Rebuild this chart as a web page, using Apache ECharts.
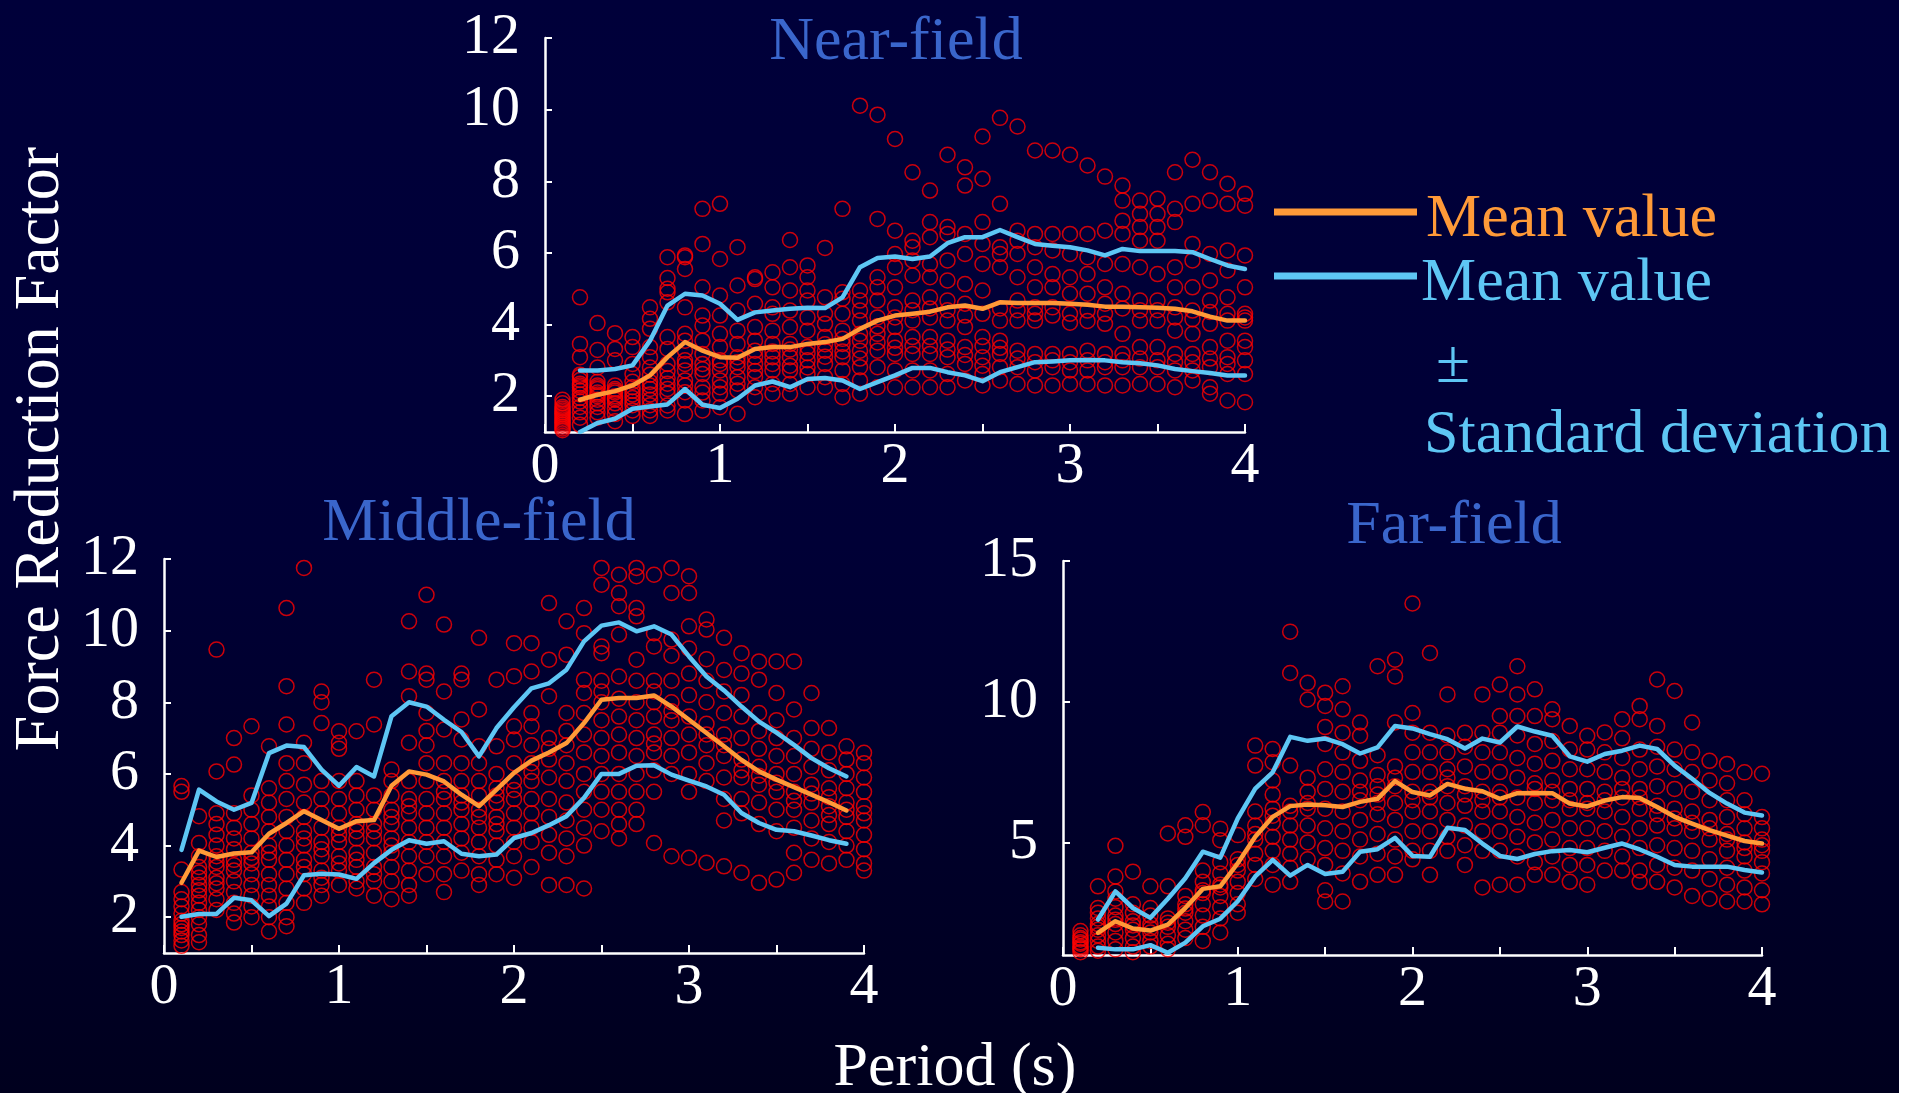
<!DOCTYPE html>
<html>
<head>
<meta charset="utf-8">
<script src="https://cdn.jsdelivr.net/npm/echarts@6/dist/echarts.min.js"></script>
<style>
html,body{margin:0;padding:0;background:#ffffff;}
#c{width:1899px;height:1093px;}
</style>
</head>
<body>
<div id="c"></div>
<script>
// ---------- DATA ----------
const periods = [0.1,0.2,0.3,0.4,0.5,0.6,0.7,0.8,0.9,1.0,1.1,1.2,1.3,1.4,1.5,1.6,1.7,1.8,1.9,2.0,
                 2.1,2.2,2.3,2.4,2.5,2.6,2.7,2.8,2.9,3.0,3.1,3.2,3.3,3.4,3.5,3.6,3.7,3.8,3.9,4.0];
const linePeriodsNear = [0.2,0.3,0.4,0.5,0.6,0.7,0.8,0.9,1.0,1.1,1.2,1.3,1.4,1.5,1.6,1.7,1.8,1.9,2.0,
                 2.1,2.2,2.3,2.4,2.5,2.6,2.7,2.8,2.9,3.0,3.1,3.2,3.3,3.4,3.5,3.6,3.7,3.8,3.9,4.0];
const linePeriodsMiddle = [0.1,0.2,0.3,0.4,0.5,0.6,0.7,0.8,0.9,1.0,1.1,1.2,1.3,1.4,1.5,1.6,1.7,1.8,1.9,2.0,
                 2.1,2.2,2.3,2.4,2.5,2.6,2.7,2.8,2.9,3.0,3.1,3.2,3.3,3.4,3.5,3.6,3.7,3.8,3.9];
const linePeriodsFar = [0.2,0.3,0.4,0.5,0.6,0.7,0.8,0.9,1.0,1.1,1.2,1.3,1.4,1.5,1.6,1.7,1.8,1.9,2.0,
                 2.1,2.2,2.3,2.4,2.5,2.6,2.7,2.8,2.9,3.0,3.1,3.2,3.3,3.4,3.5,3.6,3.7,3.8,3.9,4.0];

const nearMean = [1.90,2.04,2.14,2.30,2.58,3.09,3.51,3.27,3.09,3.07,3.32,3.37,3.37,3.46,3.51,3.60,3.88,4.11,4.25,
  4.30,4.36,4.48,4.53,4.44,4.62,4.60,4.60,4.60,4.58,4.55,4.50,4.50,4.48,4.47,4.44,4.37,4.22,4.11,4.11];
const nearUpper = [2.72,2.72,2.76,2.86,3.55,4.53,4.86,4.81,4.58,4.13,4.34,4.39,4.44,4.47,4.46,4.76,5.60,5.86,5.90,
  5.83,5.90,6.27,6.44,6.44,6.64,6.44,6.25,6.20,6.16,6.07,5.93,6.11,6.05,6.05,6.05,6.02,5.83,5.65,5.55];
const nearLower = [1.00,1.25,1.37,1.65,1.71,1.77,2.20,1.76,1.67,1.93,2.30,2.41,2.25,2.48,2.51,2.44,2.20,2.39,2.58,
  2.79,2.79,2.67,2.58,2.42,2.67,2.81,2.95,2.97,3.00,3.01,3.00,2.95,2.92,2.86,2.76,2.70,2.65,2.58,2.58];

const middleMean = [2.96,3.86,3.68,3.78,3.81,4.33,4.63,4.96,4.71,4.47,4.68,4.71,5.67,6.07,5.98,5.79,5.42,5.10,5.56,6.03,
  6.37,6.60,6.86,7.42,8.07,8.12,8.12,8.19,7.88,7.51,7.14,6.77,6.39,6.07,5.84,5.63,5.42,5.21,4.98];
const middleUpper = [3.88,5.56,5.23,5.00,5.19,6.58,6.79,6.75,6.12,5.67,6.19,5.93,7.61,8.00,7.88,7.51,7.17,6.49,7.28,7.86,
  8.39,8.53,8.91,9.70,10.14,10.23,9.98,10.12,9.89,9.28,8.72,8.33,7.88,7.46,7.15,6.81,6.44,6.16,5.93];
const middleLower = [2.01,2.09,2.09,2.54,2.47,2.03,2.38,3.17,3.21,3.19,3.07,3.51,3.88,4.15,4.05,4.12,3.77,3.70,3.75,4.21,
  4.35,4.57,4.82,5.33,6.00,6.00,6.23,6.24,5.98,5.81,5.65,5.42,4.91,4.63,4.44,4.40,4.28,4.15,4.05];

const farMean = [1.79,2.20,1.94,1.87,2.08,2.67,3.35,3.44,4.26,5.20,5.91,6.29,6.35,6.32,6.26,6.44,6.55,7.18,6.79,
  6.67,7.08,6.91,6.82,6.55,6.75,6.76,6.75,6.38,6.28,6.49,6.61,6.58,6.26,5.91,5.67,5.44,5.24,5.05,4.96];
const farUpper = [2.26,3.26,2.67,2.32,3.00,3.73,4.67,4.46,5.85,6.91,7.49,8.75,8.61,8.69,8.49,8.16,8.38,9.14,9.05,
  8.85,8.67,8.34,8.69,8.55,9.12,8.94,8.79,8.06,7.87,8.14,8.26,8.44,8.32,7.73,7.26,6.76,6.38,6.06,5.96];
const farLower = [1.26,1.20,1.20,1.35,1.08,1.44,2.02,2.29,2.91,3.79,4.38,3.82,4.20,3.88,3.96,4.67,4.76,5.16,4.52,
  4.49,5.52,5.44,4.96,4.52,4.41,4.59,4.69,4.73,4.65,4.81,4.96,4.75,4.49,4.20,4.14,4.14,4.14,4.02,3.93];

// scatter values, one list per period column (periods 0.1 ... 4.0)
const nearPoints = [
  [1.05,1.1,1.2,1.3,1.4,1.5,1.6,1.7,1.8,1.9,1.25,1.35,1.45,1.15,1.55,1.65],
  [4.76,3.46,3.09,2.55,2.45,2.35,2.25,2.15,2.05,1.95,1.85,1.7,1.55,1.4,1.2,2.6,2.3],
  [4.04,3.29,2.8,2.4,2.3,2.2,2.1,2.0,1.9,1.8,1.7,1.55,1.4,2.25,2.05],
  [3.76,3.32,3.0,2.3,2.2,2.1,2.0,1.9,1.8,1.65,1.5,1.3,2.15,1.95],
  [3.65,3.37,2.9,2.62,2.4,2.15,2.05,1.95,1.85,1.75,1.6,1.45,2.25],
  [4.48,4.16,3.88,3.37,3.09,2.8,2.6,2.4,2.2,2.05,1.9,1.75,1.6,1.45,2.3],
  [5.88,5.3,5.0,4.9,4.62,3.65,3.32,2.9,2.5,2.2,2.07,1.74,1.6,2.7,2.35],
  [5.93,5.88,5.55,4.48,3.74,3.55,3.27,3.0,2.72,2.44,2.11,1.88,1.5,2.9,2.3],
  [7.23,6.25,5.04,4.25,3.97,3.55,3.18,2.9,2.62,2.25,1.88,1.6,2.75,2.1],
  [7.37,5.83,4.81,4.25,3.74,3.37,3.0,2.72,2.44,2.07,1.69,2.9,2.25],
  [6.16,5.09,4.39,3.83,3.46,3.09,2.81,2.53,2.16,1.51,2.95,2.35],
  [5.32,5.27,4.58,3.93,3.55,3.27,2.9,2.53,2.25,1.97,3.1,2.7],
  [5.46,5.04,4.48,4.3,3.83,3.46,3.09,2.72,2.34,2.07,3.25,2.9],
  [6.36,5.6,4.95,4.39,3.93,3.46,3.09,2.72,2.34,2.07,3.3,2.85],
  [5.65,5.32,4.95,4.67,4.2,3.83,3.37,3.0,2.62,2.25,3.2,2.8],
  [6.14,4.76,4.3,4.02,3.65,3.27,2.9,2.53,2.25,3.45,3.1],
  [7.23,4.9,4.72,4.3,3.83,3.46,3.09,2.72,2.34,1.97,3.6,3.25],
  [10.11,4.95,4.67,4.39,4.11,3.74,3.27,2.81,2.44,2.07,3.55,3.05],
  [9.86,6.95,5.32,5.04,4.67,4.2,3.74,3.27,2.81,2.25,3.95,3.5],
  [9.18,6.62,5.97,5.6,5.04,4.48,3.93,3.55,3.18,2.72,2.25,4.2,3.35],
  [8.25,6.34,6.16,5.79,5.37,4.67,4.11,3.65,3.18,2.72,2.25,4.4,3.4],
  [7.74,6.86,6.44,5.69,5.32,4.76,4.2,3.65,3.18,2.72,2.25,4.45,3.4],
  [8.74,6.72,6.53,5.79,5.23,4.67,4.11,3.55,3.09,2.62,2.25,4.4,3.3],
  [8.39,7.88,6.53,5.97,5.13,4.58,3.93,3.37,2.9,2.44,4.25,3.15],
  [9.25,8.07,6.86,6.25,5.69,4.95,4.3,3.65,3.09,2.62,2.3,3.4,2.85],
  [9.77,7.37,6.16,5.97,5.6,4.11,3.55,3.18,2.81,2.44,4.45,3.35],
  [9.53,6.62,6.34,5.97,5.32,4.67,4.11,3.27,2.81,2.34,4.4,3.05],
  [8.86,6.53,6.16,5.6,5.04,4.48,4.11,3.18,2.72,2.3,4.3,2.95],
  [8.86,6.53,6.07,5.41,5.04,4.48,3.18,2.81,2.3,4.25,3.0],
  [8.74,6.53,5.97,5.32,4.86,4.3,3.18,2.72,2.34,4.05,2.95],
  [8.44,6.53,5.88,5.41,4.86,4.39,3.27,2.72,2.34,4.1,3.0],
  [8.13,6.62,5.69,5.04,4.58,4.02,3.18,2.81,2.3,4.3,2.95],
  [7.88,7.46,6.9,6.53,5.69,4.86,3.74,3.18,2.81,2.3,4.45,3.0],
  [7.46,7.09,6.72,6.34,5.6,4.67,4.11,3.37,2.81,2.34,4.4,3.05],
  [7.51,7.09,6.72,6.34,5.41,4.67,4.11,3.37,2.81,2.34,4.4,3.0],
  [8.25,7.23,6.86,5.6,5.04,4.48,3.83,3.18,2.72,2.25,4.2,2.95],
  [8.6,7.37,6.25,5.79,5.04,4.39,3.74,3.18,2.72,2.44,4.15,2.95],
  [8.25,7.46,5.97,5.23,4.67,4.02,3.37,2.81,2.25,2.07,4.35,3.05],
  [7.93,7.37,6.07,5.51,4.76,4.11,3.55,3.09,2.62,1.88,4.3,2.9],
  [7.65,7.32,5.93,5.04,4.3,4.11,3.37,3.0,2.62,1.83,4.2,3.55]
];

const middlePoints = [
  [5.66,5.5,3.33,2.7,2.5,2.3,2.1,1.9,1.7,1.5,1.35,1.2,1.6,1.8],
  [4.82,4.07,3.7,3.4,3.1,2.9,2.6,2.4,2.2,2.0,1.8,1.5,1.3,3.25,2.75],
  [9.47,6.07,4.9,4.6,4.3,4.0,3.7,3.4,3.1,2.8,2.5,2.2,3.55,2.95],
  [7.0,6.26,4.9,4.5,4.2,3.9,3.6,3.3,3.0,2.7,2.4,2.1,1.85,3.45],
  [7.33,5.4,5.0,4.6,4.2,3.8,3.5,3.2,2.9,2.6,2.3,2.0,3.65],
  [6.77,5.6,5.2,4.8,4.4,4.0,3.6,3.2,2.9,2.6,2.3,2.0,1.6,3.8],
  [10.63,8.45,7.38,6.3,5.8,5.3,4.8,4.4,4.0,3.6,3.2,2.8,2.4,2.0,1.75],
  [11.75,6.87,6.3,5.7,5.2,4.8,4.4,4.0,3.6,3.2,2.8,2.4,4.2,3.4],
  [8.3,8.0,7.42,5.8,5.3,4.9,4.5,4.1,3.7,3.3,2.9,2.6,3.9,3.1],
  [7.19,6.87,6.7,5.8,5.3,4.9,4.5,4.1,3.7,3.3,2.9,4.3,3.5],
  [7.19,5.8,5.4,5.0,4.6,4.2,3.8,3.4,3.0,2.8,4.4,3.6],
  [8.63,7.38,5.4,5.0,4.6,4.2,3.8,3.4,3.0,2.6,4.4,3.2],
  [6.12,5.8,5.4,5.0,4.6,4.2,3.8,3.4,3.0,2.5,4.8,4.0],
  [10.26,8.86,8.17,6.87,5.8,5.3,4.9,4.5,4.1,3.7,3.3,2.9,2.6,5.1],
  [11.0,8.8,8.63,7.7,7.2,6.8,5.8,5.3,4.9,4.5,4.1,3.7,3.2,6.3],
  [10.17,8.3,7.24,6.3,5.8,5.3,4.9,4.5,4.1,3.7,3.2,2.7,5.5],
  [8.8,8.63,7.52,6.96,6.3,5.8,5.4,5.0,4.6,4.2,3.8,3.3,5.2],
  [9.8,7.8,6.77,6.3,5.8,5.4,5.0,4.5,4.1,3.7,3.2,2.9,4.8],
  [8.63,6.77,6.0,5.6,5.2,4.8,4.4,4.0,3.6,3.2,5.4,4.6],
  [9.65,8.73,7.33,6.96,6.3,5.8,5.3,4.9,4.5,4.1,3.7,3.1,5.55],
  [9.65,8.86,7.7,7.33,6.8,6.3,5.8,5.3,4.9,4.5,4.1,3.4,6.05],
  [10.77,9.19,8.17,7.0,6.4,5.9,5.3,4.8,4.3,3.8,2.9,6.7],
  [10.26,9.33,7.7,6.8,6.3,5.8,5.2,4.7,4.2,3.7,2.9,7.2],
  [10.63,9.93,8.63,8.26,7.7,7.1,6.6,6.0,5.5,5.0,4.5,4.0,2.8],
  [11.75,11.28,9.56,9.37,8.6,8.0,7.5,7.0,6.5,6.0,5.5,5.0,4.4,8.3],
  [11.56,11.05,10.68,9.89,8.72,8.1,7.6,7.1,6.6,6.0,5.5,5.0,4.6,4.2],
  [11.75,11.52,10.63,10.4,9.19,8.6,8.0,7.5,7.0,6.5,6.0,5.5,5.0,4.6],
  [11.56,9.93,9.56,8.6,8.0,7.6,7.1,6.6,6.1,5.5,4.07,8.3,6.85],
  [11.75,11.05,9.75,9.3,8.6,8.0,7.5,7.0,6.5,6.0,3.7,7.75],
  [11.52,11.05,10.12,9.5,8.8,8.2,7.6,7.1,6.6,6.0,5.5,3.66],
  [10.31,10.03,9.2,8.6,8.0,7.4,6.8,6.3,5.8,3.52,7.1],
  [9.8,8.9,8.3,7.7,7.1,6.5,5.9,5.3,4.7,3.42,6.8],
  [9.37,8.8,8.2,7.6,7.0,6.4,5.9,5.3,4.9,3.24,6.1],
  [9.14,8.63,7.7,7.2,6.7,6.2,5.7,5.2,4.6,2.96,5.95],
  [9.14,8.26,7.5,7.0,6.5,6.0,5.5,5.0,4.4,3.05,5.75],
  [9.14,7.8,7.0,6.5,6.0,5.5,5.0,4.5,3.8,3.24,5.25],
  [8.26,7.28,6.7,6.2,5.7,5.2,4.7,4.2,3.6,5.45],
  [7.28,6.6,6.1,5.6,5.1,4.6,4.1,3.5,5.35,4.85],
  [6.77,6.4,6.0,5.6,5.2,4.8,4.4,4.0,3.6,5.0],
  [6.59,6.3,5.9,5.5,5.1,4.7,4.3,3.9,3.5,3.3,4.9]
];

const farPoints = [
  [1.85,1.7,1.55,1.4,1.3,1.2,1.1,1.6,1.45,1.25],
  [3.44,2.67,2.5,2.3,2.1,1.9,1.7,1.5,1.3,1.15,2.0],
  [4.88,3.79,3.26,3.0,2.7,2.4,2.1,1.8,1.5,1.2,2.25],
  [3.96,2.8,2.5,2.2,1.9,1.6,1.3,1.1,2.05],
  [3.44,2.67,2.4,2.1,1.8,1.5,1.3,1.95],
  [5.32,3.44,2.3,2.0,1.7,1.4,1.2,2.15],
  [5.61,5.2,3.1,2.8,2.5,2.2,1.9,1.6,2.65],
  [6.08,5.61,4.0,3.6,3.2,2.8,2.4,2.0,1.5,3.3],
  [5.49,5.08,4.3,3.9,3.5,3.1,2.7,2.3,1.8,3.4],
  [5.26,4.4,4.0,3.6,3.2,2.8,2.5,4.2],
  [8.44,7.73,6.1,5.6,5.1,4.6,4.2,3.7,5.3],
  [8.32,7.85,7.2,6.7,6.2,5.7,5.2,4.7,4.2,3.5,5.95],
  [12.49,11.02,7.73,6.1,5.6,5.1,4.6,4.1,3.6,6.3],
  [10.67,10.08,7.3,6.8,6.2,5.6,5.0,4.4,6.4],
  [10.32,9.85,9.1,8.5,7.6,6.9,6.2,5.5,4.8,4.2,3.3,2.9],
  [10.55,9.73,8.9,8.2,7.5,6.8,6.1,5.4,4.7,3.9,2.9],
  [9.26,8.79,7.9,7.2,6.5,5.8,5.1,4.5,3.6,6.8],
  [11.26,8.1,7.4,6.7,6.0,5.3,4.6,3.85,7.0,6.4],
  [11.49,10.9,9.26,7.7,7.0,6.4,5.8,5.1,4.5,3.85,7.3],
  [13.49,9.6,8.9,8.2,7.5,6.8,6.1,5.4,4.7,4.4,6.5],
  [11.73,8.9,8.2,7.5,6.8,6.1,5.4,4.7,3.85,6.6],
  [10.26,8.8,8.2,7.6,7.0,6.4,5.8,5.2,4.7,7.3],
  [8.9,8.4,7.7,7.0,6.3,5.6,4.9,4.2,6.7],
  [10.26,8.9,8.2,7.5,6.8,6.1,5.4,4.7,3.4,6.5],
  [10.61,9.49,8.9,8.2,7.5,6.8,6.1,5.4,4.7,3.5,6.6],
  [11.26,10.26,9.49,8.8,8.0,7.3,6.6,5.9,5.2,4.5,3.5],
  [10.44,9.49,8.5,7.8,7.1,6.4,5.7,5.0,4.3,3.85,6.9],
  [9.73,9.38,8.6,7.9,7.2,6.5,5.8,5.1,4.5,3.85,6.8],
  [9.14,8.3,7.6,6.9,6.2,5.5,4.8,4.2,3.6,6.5],
  [8.79,8.3,7.6,6.9,6.2,5.5,4.8,4.2,3.5,6.4],
  [8.91,8.2,7.5,6.8,6.1,5.4,4.7,4.0,6.5],
  [9.38,8.7,8.0,7.3,6.6,5.9,5.2,4.5,4.0,6.9],
  [9.85,9.38,8.3,7.6,6.9,6.2,5.5,4.8,4.0,3.6,6.6],
  [10.79,9.14,8.4,7.7,7.0,6.3,5.6,4.9,4.2,3.6,6.0],
  [10.38,8.3,7.6,6.9,6.2,5.5,4.8,4.1,3.4,5.85],
  [9.26,8.2,7.5,6.8,6.1,5.4,4.7,4.0,3.1,5.7],
  [7.9,7.2,6.5,5.8,5.1,4.4,3.7,3.0,5.5],
  [7.79,7.1,6.5,5.9,5.3,4.7,4.1,3.5,2.9,5.1],
  [7.49,6.5,6.0,5.5,5.0,4.5,4.0,3.4,2.9,4.8],
  [7.44,5.9,5.5,5.1,4.7,4.3,3.9,3.3,2.8,4.9]
];

const yTicksNear = [2,4,6,8,10,12];
const yTicksMiddle = [2,4,6,8,10,12];
const yTicksFar = [5,10,15];
const xLabels = [0,1,2,3,4];
const xTicks = [0,0.5,1,1.5,2,2.5,3,3.5,4];

const panelTitles = ['Near-field','Middle-field','Far-field'];
const legendTexts = ['Mean value','Mean value','\u00b1','Standard deviation'];
const xAxisTitle = 'Period (s)';
const yAxisTitle = 'Force Reduction Factor';

// ---------- STYLE ----------
const FONT = '"Liberation Serif","Times New Roman",serif';
const ORANGE = '#FF9A38';
const BLUE = '#5EC6F4';
const TITLE_BLUE = '#3A66CC';
const RED = '#FF0000';

function scatterData(points){
  const out = [];
  points.forEach((col, i) => col.forEach(v => out.push([periods[i], v])));
  return out;
}
function lineData(xs, ys){ return xs.map((x,i)=>[x, ys[i]]); }

function mkX(gi){
  return {
    type:'value', gridIndex:gi, min:0, max:4,
    axisLine:{show:true, onZero:false, lineStyle:{color:'#fff', width:2.5}},
    axisTick:{show:true, inside:true, length:8, customValues:xTicks, lineStyle:{color:'#fff', width:2}},
    axisLabel:{color:'#fff', fontFamily:FONT, fontSize:58, margin:6, customValues:xLabels},
    splitLine:{show:false}
  };
}
function mkY(gi, max, ticks){
  return {
    type:'value', gridIndex:gi, min:1, max:max,
    axisLine:{show:true, onZero:false, lineStyle:{color:'#fff', width:2.5}},
    axisTick:{show:true, inside:true, length:7, customValues:ticks, lineStyle:{color:'#fff', width:2}},
    axisLabel:{color:'#fff', fontFamily:FONT, fontSize:58, margin:25, customValues:ticks},
    splitLine:{show:false}
  };
}
function scatterSeries(gi, pts){
  return {
    type:'scatter', xAxisIndex:gi, yAxisIndex:gi, data:scatterData(pts),
    symbol:'circle', symbolSize:15, z:2, silent:true,
    itemStyle:{color:'rgba(0,0,0,0)', borderColor:RED, borderWidth:1.5}
  };
}
function lineSeries(gi, xs, ys, color){
  return {
    type:'line', xAxisIndex:gi, yAxisIndex:gi, data:lineData(xs, ys),
    showSymbol:false, z:5, silent:true,
    lineStyle:{color:color, width:4.5, join:'round', cap:'round'}
  };
}

const chart = echarts.init(document.getElementById('c'), null, {renderer:'canvas'});

const option = {
  animation:false,
  backgroundColor: new echarts.graphic.LinearGradient(0,0,0,1,[
    {offset:0, color:'#00003a'},
    {offset:0.5, color:'#000036'},
    {offset:1, color:'#00001e'}
  ]),
  grid:[
    {left:545, top:38, width:700, height:394},
    {left:164, top:559, width:700, height:394},
    {left:1063, top:561, width:699, height:394}
  ],
  xAxis:[mkX(0), mkX(1), mkX(2)],
  yAxis:[mkY(0,12,yTicksNear), mkY(1,12,yTicksMiddle), mkY(2,15,yTicksFar)],
  series:[
    scatterSeries(0, nearPoints),
    lineSeries(0, linePeriodsNear, nearUpper, BLUE),
    lineSeries(0, linePeriodsNear, nearLower, BLUE),
    lineSeries(0, linePeriodsNear, nearMean, ORANGE),
    scatterSeries(1, middlePoints),
    lineSeries(1, linePeriodsMiddle, middleUpper, BLUE),
    lineSeries(1, linePeriodsMiddle, middleLower, BLUE),
    lineSeries(1, linePeriodsMiddle, middleMean, ORANGE),
    scatterSeries(2, farPoints),
    lineSeries(2, linePeriodsFar, farUpper, BLUE),
    lineSeries(2, linePeriodsFar, farLower, BLUE),
    lineSeries(2, linePeriodsFar, farMean, ORANGE)
  ],
  graphic:[
    {type:'text', x:896, y:43, style:{text:panelTitles[0], font:'62px '+FONT, fill:TITLE_BLUE, textAlign:'center', textVerticalAlign:'middle'}},
    {type:'text', x:479, y:524, style:{text:panelTitles[1], font:'62px '+FONT, fill:TITLE_BLUE, textAlign:'center', textVerticalAlign:'middle'}},
    {type:'text', x:1454, y:527, style:{text:panelTitles[2], font:'62px '+FONT, fill:TITLE_BLUE, textAlign:'center', textVerticalAlign:'middle'}},
    {type:'text', x:955, y:1069, style:{text:xAxisTitle, font:'62px '+FONT, fill:'#fff', textAlign:'center', textVerticalAlign:'middle'}},
    {type:'text', x:41, y:449, rotation:Math.PI/2, style:{text:yAxisTitle, font:'64px '+FONT, fill:'#fff', textAlign:'center', textVerticalAlign:'middle'}},
    {type:'line', shape:{x1:1274, y1:212, x2:1417, y2:212}, style:{stroke:ORANGE, lineWidth:7}},
    {type:'text', x:1426, y:220, style:{text:legendTexts[0], font:'62px '+FONT, fill:ORANGE, textAlign:'left', textVerticalAlign:'middle'}},
    {type:'line', shape:{x1:1274, y1:276, x2:1417, y2:276}, style:{stroke:BLUE, lineWidth:7}},
    {type:'text', x:1421, y:284, style:{text:legendTexts[1], font:'62px '+FONT, fill:BLUE, textAlign:'left', textVerticalAlign:'middle'}},
    {type:'text', x:1436, y:366, style:{text:legendTexts[2], font:'62px '+FONT, fill:BLUE, textAlign:'left', textVerticalAlign:'middle'}},
    {type:'text', x:1424, y:436, style:{text:legendTexts[3], font:'62px '+FONT, fill:BLUE, textAlign:'left', textVerticalAlign:'middle'}}
  ]
};
chart.setOption(option);
</script>
</body>
</html>
